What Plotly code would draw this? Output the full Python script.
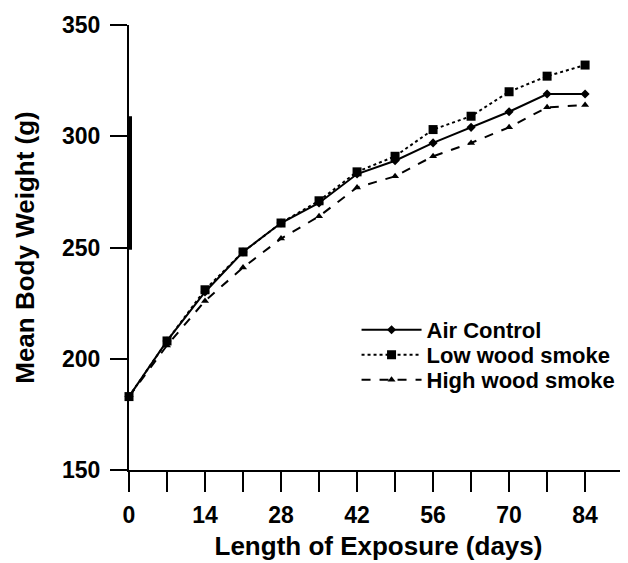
import plotly.graph_objects as go

days = [0, 7, 14, 21, 28, 35, 42, 49, 56, 63, 70, 77, 84]
air_control = [183, 208, 230, 248, 261, 270, 283, 289, 297, 304, 311, 319, 319]
low_smoke = [183, 208, 231, 248, 261, 271, 284, 291, 303, 309, 320, 327, 332]
high_smoke = [183, 206, 226, 241, 254, 264, 277, 282, 291, 297, 304, 313, 314]

x_tickvals = list(range(0, 92, 7))
x_ticktext = [str(v) if v % 14 == 0 and v <= 84 else "" for v in x_tickvals]
y_tickvals = [150, 200, 250, 300, 350]

font_family = "Liberation Sans, Arial, sans-serif"
bold = dict(family=font_family, color="black", weight="bold")

fig = go.Figure()
fig.add_trace(go.Scatter(
    x=days, y=air_control, name="Air Control", mode="lines+markers",
    line=dict(color="black", width=2, dash="solid"),
    marker=dict(symbol="diamond", size=7, color="black"),
    cliponaxis=False, legend="legend",
))
fig.add_trace(go.Scatter(
    x=days, y=low_smoke, name="Low wood smoke", mode="lines+markers",
    line=dict(color="black", width=2, dash="dot"),
    marker=dict(symbol="square", size=9, color="black"),
    cliponaxis=False, legend="legend2",
))
fig.add_trace(go.Scatter(
    x=days, y=high_smoke, name="High wood smoke", mode="lines+markers",
    line=dict(color="black", width=2, dash="dash"),
    marker=dict(symbol="triangle-up", size=7, color="black"),
    cliponaxis=False, legend="legend3",
))

# thicker scanned segment on the y axis
fig.add_shape(type="line", xref="paper", yref="y", x0=0.003, x1=0.003, y0=249, y1=309,
              line=dict(color="black", width=3))

def leg(y):
    return dict(
        x=0.456, y=y, xanchor="left", yanchor="middle",
        font=dict(size=22, **bold),
        bgcolor="rgba(0,0,0,0)", itemwidth=60,
    )

fig.update_layout(
    width=620, height=555,
    margin=dict(l=121, r=0, t=17, b=93, autoexpand=False),
    paper_bgcolor="white", plot_bgcolor="white",
    font=dict(size=24, **bold),
    showlegend=True,
    legend=leg(0.3146),
    legend2=leg(0.2584),
    legend3=leg(0.2022),
    xaxis=dict(
        range=[0, 91.9], tickvals=x_tickvals, ticktext=x_ticktext,
        showline=True, linecolor="black", linewidth=2,
        ticks="outside", ticklen=20, tickwidth=2, tickcolor="black",
        showgrid=False, zeroline=False, ticklabelstandoff=3,
        tickfont=dict(size=23, **bold),
        title=dict(text="Length of Exposure (days)", standoff=10, font=dict(size=26, **bold)),
    ),
    yaxis=dict(
        range=[150, 350], tickvals=y_tickvals,
        showline=True, linecolor="black", linewidth=2,
        ticks="outside", ticklen=17, tickwidth=2, tickcolor="black",
        showgrid=False, zeroline=False, ticklabelstandoff=5,
        tickfont=dict(size=23, **bold),
        title=dict(text="Mean Body Weight (g)", standoff=20, font=dict(size=26, **bold)),
    ),
)

fig.write_html("out.html")
